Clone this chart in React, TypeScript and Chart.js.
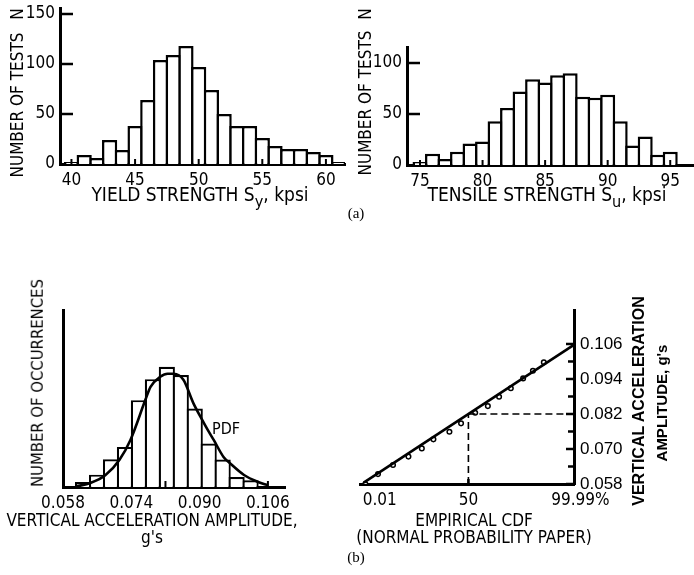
import React, { useEffect, useRef } from "react";
import { Chart, registerables } from "chart.js";

Chart.register(...registerables);

const PAGE_W = 694;
const PAGE_H = 575;

// ---------------- (a) left: yield strength histogram ----------------
const yieldStrength = [40, 41, 42, 43, 44, 45, 46, 47, 48, 49, 50, 51, 52, 53, 54, 55, 56, 57, 58, 59, 60, 61];
const yieldTests = [2, 9, 6, 24, 14, 38, 64, 104, 109, 118, 97, 74, 50, 38, 38, 26, 18, 15, 15, 12, 9, 2];
const yieldTickValues = [40, 45, 50, 55, 60];
const yieldCountTicks = [0, 50, 100, 150];

// ---------------- (a) right: tensile strength histogram ----------------
const tensileStrength = [75, 76, 77, 78, 79, 80, 81, 82, 83, 84, 85, 86, 87, 88, 89, 90, 91, 92, 93, 94, 95];
const tensileTests = [3, 11, 6, 13, 21, 23, 43, 56, 72, 84, 81, 88, 90, 67, 66, 69, 43, 19, 28, 10, 13];
const tensileTickValues = [75, 80, 85, 90, 95];
const tensileCountTicks = [0, 50, 100];

// ---------------- (b) left: acceleration histogram + PDF ----------------
const accelBins = [0.0627, 0.06597, 0.06924, 0.07251, 0.07578, 0.07905, 0.08232, 0.08559, 0.08886, 0.09213, 0.0954, 0.09867, 0.10194];
const accelOccurrences = [1.5, 3.7, 8.3, 12, 26, 32.3, 36, 33.5, 23.5, 13, 8.2, 3, 2];
const pdfAmplitude = [0.0612, 0.0644, 0.0679, 0.0712, 0.0738, 0.0773, 0.0785, 0.0808, 0.0825, 0.0839, 0.0862, 0.0885, 0.0906, 0.0919, 0.0933, 0.0956, 0.0973, 0.1004, 0.1037, 0.106];
const pdfOccurrences = [0.2, 1.2, 3.5, 8.1, 14.1, 26.1, 30, 33, 33.9, 33.9, 32.1, 25.2, 20.1, 17.1, 14.1, 9, 6.9, 3.6, 1.5, 0.5];
const accelTickValues = [0.058, 0.074, 0.09, 0.106];
const accelInnerTicks = [0.082, 0.106];

// ---------------- (b) right: empirical CDF on normal probability paper ----------------
const cdfPercent = [0.0126, 0.066, 0.37, 1.66, 4.9, 10.7, 25, 39.7, 59.5, 75.5, 86.2, 93.4, 97.4, 98.9, 99.63];
const cdfAmplitude = [0.058, 0.0614, 0.0645, 0.0674, 0.0702, 0.0733, 0.0759, 0.0788, 0.0824, 0.0847, 0.0879, 0.0908, 0.0942, 0.0968, 0.0997];
const fitPercent = [0.01, 99.99];
const fitAmplitude = [0.0585, 0.1055];
const cdfTickPercent = [0.01, 50, 99.99];
const cdfTickLabels = ["0.01", "50", "99.99%"];
const amplitudeTicks = [0.058, 0.07, 0.082, 0.094, 0.106];
const amplitudeMinorTicks = [0.064, 0.076, 0.088, 0.1];
const medianPercent = 50;
const medianAmplitude = 0.082;

// ---------------- layout / style ----------------
type Area = { left: number; top: number; right: number; bottom: number };
const AREA_YIELD: Area = { left: 60, top: 8, right: 345, bottom: 164 };
const AREA_TENSILE: Area = { left: 407, top: 47, right: 694, bottom: 165 };
const AREA_PDF: Area = { left: 63, top: 310, right: 285, bottom: 487 };
const AREA_CDF: Area = { left: 360, top: 310, right: 574, bottom: 484 };

const YIELD_X = [39.1, 61.5];
const YIELD_Y = [0, 156];
const TENSILE_X = [73.96, 96.9];
const TENSILE_Y = [0, 115.7];
const PDF_X = [0.058, 0.11];
const PDF_Y = [0, 53];
const CDF_Z = [-3.85, 3.75];
const CDF_Y = [0.058, 0.11765];

const AXIS_BOX = 40;
const RIGHT_AXIS_BOX = 60;
const AXIS_W = 3;
const BAR_BW = 2.5;

const NARROW = "'Liberation Sans Narrow', 'DejaVu Sans Condensed', 'Arial Narrow', 'Liberation Sans', sans-serif";
const SANS = "'Liberation Sans', Arial, sans-serif";
const SERIF = "'Liberation Serif', 'Times New Roman', serif";

function probit(p: number): number {
  const a = [-3.969683028665376e1, 2.209460984245205e2, -2.759285104469687e2, 1.38357751867269e2, -3.066479806614716e1, 2.506628277459239];
  const b = [-5.447609879822406e1, 1.615858368580409e2, -1.556989798598866e2, 6.680131188771972e1, -1.328068155288572e1];
  const c = [-7.784894002430293e-3, -3.223964580411365e-1, -2.400758277161838, -2.549732539343734, 4.374664141464968, 2.938163982698783];
  const d = [7.784695709041462e-3, 3.224671290700398e-1, 2.445134137142996, 3.754408661907416];
  const pl = 0.02425;
  if (p < pl) {
    const q = Math.sqrt(-2 * Math.log(p));
    return (((((c[0] * q + c[1]) * q + c[2]) * q + c[3]) * q + c[4]) * q + c[5]) / ((((d[0] * q + d[1]) * q + d[2]) * q + d[3]) * q + 1);
  }
  if (p > 1 - pl) {
    const q = Math.sqrt(-2 * Math.log(1 - p));
    return -(((((c[0] * q + c[1]) * q + c[2]) * q + c[3]) * q + c[4]) * q + c[5]) / ((((d[0] * q + d[1]) * q + d[2]) * q + d[3]) * q + 1);
  }
  const q = p - 0.5;
  const r = q * q;
  return ((((((a[0] * r + a[1]) * r + a[2]) * r + a[3]) * r + a[4]) * r + a[5]) * q) / (((((b[0] * r + b[1]) * r + b[2]) * r + b[3]) * r + b[4]) * r + 1);
}
const pctToZ = (pct: number) => probit(pct / 100);

function paddingFor(area: Area, yOnRight = false) {
  return {
    left: yOnRight ? area.left : area.left - AXIS_BOX,
    right: yOnRight ? PAGE_W - area.right - RIGHT_AXIS_BOX : PAGE_W - area.right,
    top: area.top,
    bottom: PAGE_H - area.bottom - AXIS_BOX,
  };
}

type TickSpec = { axis: "x" | "y"; side?: "left" | "right"; values: number[]; length: number; width: number };

function innerTicksPlugin(specs: TickSpec[]) {
  return {
    id: "innerTicks",
    afterDraw(chart: any) {
      const ctx = chart.ctx;
      const a = chart.chartArea;
      ctx.save();
      ctx.strokeStyle = "#000";
      for (const s of specs) {
        const sc = chart.scales[s.axis];
        ctx.lineWidth = s.width;
        for (const v of s.values) {
          const p = sc.getPixelForValue(v);
          ctx.beginPath();
          if (s.axis === "x") {
            ctx.moveTo(p, a.bottom);
            ctx.lineTo(p, a.bottom - s.length);
          } else if (s.side === "right") {
            ctx.moveTo(a.right, p);
            ctx.lineTo(a.right - s.length, p);
          } else {
            ctx.moveTo(a.left, p);
            ctx.lineTo(a.left + s.length, p);
          }
          ctx.stroke();
        }
      }
      ctx.restore();
    },
  };
}

function cdfLabelsPlugin() {
  return {
    id: "cdfLabels",
    afterDraw(chart: any) {
      const ctx = chart.ctx;
      const sc = chart.scales.x;
      const a = chart.chartArea;
      ctx.save();
      ctx.fillStyle = "#000";
      ctx.font = `17px ${NARROW}`;
      ctx.textBaseline = "top";
      cdfTickPercent.forEach((pct, i) => {
        const px = sc.getPixelForValue(pctToZ(pct));
        const label = cdfTickLabels[i];
        if (i === 0) {
          ctx.textAlign = "left";
          ctx.fillText(label, px - 1, a.bottom + 8);
        } else if (i === cdfTickPercent.length - 1) {
          const core = label.replace("%", "");
          ctx.textAlign = "left";
          ctx.fillText(label, px - ctx.measureText(core).width / 2, a.bottom + 8);
        } else {
          ctx.textAlign = "center";
          ctx.fillText(label, px, a.bottom + 8);
        }
      });
      ctx.restore();
    },
  };
}

function axisX(range: number[], ticks: number[] | null, fmt: (v: number) => string, showTicks = true) {
  return {
    type: "linear",
    min: range[0],
    max: range[1],
    offset: false,
    z: 1,
    grid: { display: false, drawTicks: false },
    border: { display: true, width: AXIS_W, color: "#000" },
    ticks: {
      display: showTicks,
      color: "#000",
      font: { family: NARROW, size: 17 },
      padding: 6,
      maxRotation: 0,
      autoSkip: false,
      callback: (v: number) => fmt(v),
    },
    afterBuildTicks: (s: any) => {
      if (ticks) s.ticks = ticks.map((value) => ({ value }));
    },
    afterFit: (s: any) => {
      s.height = AXIS_BOX;
      s.paddingLeft = 0;
      s.paddingRight = 0;
    },
  };
}

function axisY(range: number[], ticks: number[] | null, fmt: (v: number) => string, position: "left" | "right", showTicks: boolean, font: any) {
  return {
    type: "linear",
    position,
    min: range[0],
    max: range[1],
    z: 1,
    grid: { display: false, drawTicks: false },
    border: { display: true, width: AXIS_W, color: "#000" },
    ticks: {
      display: showTicks,
      color: "#000",
      font,
      padding: position === "left" ? 5 : 6,
      autoSkip: false,
      callback: (v: number) => fmt(v),
    },
    afterBuildTicks: (s: any) => {
      if (ticks) s.ticks = ticks.map((value) => ({ value }));
    },
    afterFit: (s: any) => {
      s.width = position === "left" ? AXIS_BOX : RIGHT_AXIS_BOX;
      s.paddingTop = 0;
      s.paddingBottom = 0;
    },
  };
}

const commonPlugins = { legend: { display: false }, tooltip: { enabled: false }, title: { display: false } };

function histogramConfig(bins: number[], counts: number[], area: Area, xr: number[], yr: number[], xTicks: number[], yTicks: number[]) {
  const pxPerUnit = (area.right - area.left) / (xr[1] - xr[0]);
  return {
    type: "bar",
    data: {
      datasets: [
        {
          data: bins.map((x, i) => ({ x, y: counts[i] })),
          backgroundColor: "#fff",
          borderColor: "#000",
          borderWidth: BAR_BW,
          borderSkipped: "start",
          inflateAmount: 0,
          barPercentage: 1 + BAR_BW / pxPerUnit,
          categoryPercentage: 1,
        },
      ],
    },
    options: {
      responsive: false,
      animation: false,
      events: [],
      layout: { padding: paddingFor(area) },
      plugins: commonPlugins,
      scales: {
        x: axisX(xr, xTicks, (v) => String(v)),
        y: axisY(yr, yTicks, (v) => String(v), "left", true, { family: NARROW, size: 17 }),
      },
    },
    plugins: [
      innerTicksPlugin([
        { axis: "y", side: "left", values: yTicks.filter((v) => v > 0), length: 13, width: 2.5 },
        { axis: "x", values: xTicks, length: 5, width: 2 },
      ]),
    ],
  };
}

function pdfConfig() {
  const area = AREA_PDF;
  const pxPerUnit = (area.right - area.left) / (PDF_X[1] - PDF_X[0]);
  const binPx = (accelBins[1] - accelBins[0]) * pxPerUnit;
  const bw = 2.2;
  return {
    type: "bar",
    data: {
      datasets: [
        {
          type: "line",
          data: pdfAmplitude.map((x, i) => ({ x, y: pdfOccurrences[i] })),
          borderColor: "#000",
          borderWidth: 2.6,
          pointRadius: 0,
          tension: 0.4,
          cubicInterpolationMode: "monotone",
          fill: false,
          order: 0,
        },
        {
          type: "bar",
          data: accelBins.map((x, i) => ({ x, y: accelOccurrences[i] })),
          backgroundColor: "#fff",
          borderColor: "#000",
          borderWidth: bw,
          borderSkipped: "start",
          inflateAmount: 0,
          barPercentage: 1 + bw / binPx,
          categoryPercentage: 1,
          order: 1,
        },
      ],
    },
    options: {
      responsive: false,
      animation: false,
      events: [],
      layout: { padding: paddingFor(area) },
      plugins: commonPlugins,
      scales: {
        x: axisX(PDF_X, accelTickValues, (v) => v.toFixed(3)),
        y: axisY(PDF_Y, [], (v) => String(v), "left", false, { family: NARROW, size: 17 }),
      },
    },
    plugins: [innerTicksPlugin([{ axis: "x", values: accelInnerTicks, length: 6, width: 2 }])],
  };
}

function cdfConfig() {
  const area = AREA_CDF;
  const zMed = pctToZ(medianPercent);
  return {
    type: "scatter",
    data: {
      datasets: [
        {
          data: fitPercent.map((p, i) => ({ x: pctToZ(p), y: fitAmplitude[i] })),
          showLine: true,
          borderColor: "#000",
          borderWidth: 2.6,
          pointRadius: 0,
        },
        {
          data: [
            { x: zMed, y: medianAmplitude },
            { x: CDF_Z[1], y: medianAmplitude },
          ],
          showLine: true,
          borderColor: "#000",
          borderWidth: 1.6,
          borderDash: [7, 4],
          pointRadius: 0,
        },
        {
          data: [
            { x: zMed, y: CDF_Y[0] },
            { x: zMed, y: medianAmplitude },
          ],
          showLine: true,
          borderColor: "#000",
          borderWidth: 1.6,
          borderDash: [7, 4],
          pointRadius: 0,
        },
        {
          data: cdfPercent.map((p, i) => ({ x: pctToZ(p), y: cdfAmplitude[i] })),
          showLine: false,
          pointRadius: 2.3,
          pointBackgroundColor: "#fff",
          pointBorderColor: "#000",
          pointBorderWidth: 1.5,
        },
      ],
    },
    options: {
      responsive: false,
      animation: false,
      events: [],
      layout: { padding: paddingFor(area, true) },
      plugins: commonPlugins,
      scales: {
        x: axisX(CDF_Z, [], (v) => String(v), false),
        y: axisY(CDF_Y, amplitudeTicks, (v) => v.toFixed(3), "right", true, { family: SANS, size: 17 }),
      },
    },
    plugins: [
      innerTicksPlugin([
        { axis: "y", side: "right", values: amplitudeTicks, length: 8, width: 2.5 },
        { axis: "y", side: "right", values: amplitudeMinorTicks, length: 6, width: 2.5 },
        { axis: "x", values: [pctToZ(medianPercent)], length: 5, width: 2.5 },
      ]),
      cdfLabelsPlugin(),
    ],
  };
}

function ChartCanvas({ make }: { make: () => any }) {
  const ref = useRef<HTMLCanvasElement>(null);
  useEffect(() => {
    const chart = new Chart(ref.current as HTMLCanvasElement, make());
    return () => chart.destroy();
  }, []);
  return (
    <canvas
      ref={ref}
      width={PAGE_W}
      height={PAGE_H}
      style={{ position: "absolute", left: 0, top: 0, width: PAGE_W, height: PAGE_H }}
    />
  );
}

type LabelProps = { x: number; y: number; rot?: number; font?: string; size: number; weight?: string; children: React.ReactNode };
function Label({ x, y, rot = 0, font = NARROW, size, weight = "normal", children }: LabelProps) {
  return (
    <div
      style={{
        position: "absolute",
        left: x,
        top: y,
        transform: `translate(-50%, -50%) rotate(${rot}deg)`,
        whiteSpace: "nowrap",
        fontFamily: font,
        fontSize: size,
        fontWeight: weight as any,
        lineHeight: 1,
        color: "#000",
      }}
    >
      {children}
    </div>
  );
}

const Sub = ({ children }: { children: React.ReactNode }) => (
  <span style={{ fontSize: "0.85em", position: "relative", top: "0.38em" }}>{children}</span>
);

export default function App() {
  return (
    <div style={{ position: "absolute", left: 0, top: 0, width: PAGE_W, height: PAGE_H, background: "#fff", overflow: "hidden" }}>
      <ChartCanvas make={() => histogramConfig(yieldStrength, yieldTests, AREA_YIELD, YIELD_X, YIELD_Y, yieldTickValues, yieldCountTicks)} />
      <ChartCanvas make={() => histogramConfig(tensileStrength, tensileTests, AREA_TENSILE, TENSILE_X, TENSILE_Y, tensileTickValues, tensileCountTicks)} />
      <ChartCanvas make={pdfConfig} />
      <ChartCanvas make={cdfConfig} />

      <Label x={17} y={105} rot={-90} size={17}>NUMBER OF TESTS</Label>
      <Label x={17} y={14} rot={-90} size={17}>N</Label>
      <Label x={200} y={195} size={19}>
        YIELD STRENGTH S<Sub>y</Sub>, kpsi
      </Label>
      <Label x={365} y={103} rot={-90} size={17}>NUMBER OF TESTS</Label>
      <Label x={365} y={14} rot={-90} size={17}>N</Label>
      <Label x={547} y={195} size={19}>
        TENSILE STRENGTH S<Sub>u</Sub>, kpsi
      </Label>
      <Label x={356} y={213} font={SERIF} size={15}>(a)</Label>

      <Label x={37.5} y={383} rot={-90} size={16.5}>NUMBER OF OCCURRENCES</Label>
      <Label x={226} y={429} size={16}>PDF</Label>
      <Label x={152} y={520} size={17}>VERTICAL ACCELERATION AMPLITUDE,</Label>
      <Label x={152} y={537} size={17}>g's</Label>
      <Label x={474} y={520} size={17}>EMPIRICAL CDF</Label>
      <Label x={474} y={537} size={17}>(NORMAL PROBABILITY PAPER)</Label>
      <Label x={639} y={401} rot={-90} font={SANS} weight="bold" size={16}>VERTICAL ACCELERATION</Label>
      <Label x={661} y={403} rot={-90} font={SANS} weight="bold" size={15}>AMPLITUDE, g's</Label>
      <Label x={356} y={557} font={SERIF} size={15}>(b)</Label>
    </div>
  );
}
